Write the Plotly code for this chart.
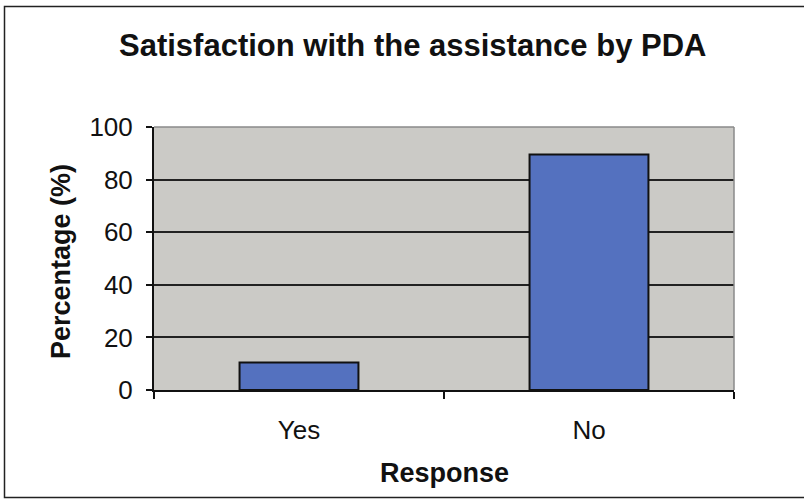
import plotly.graph_objects as go

# Survey responses
responses = ["Yes", "No"]
percentages = [10.5, 89.5]
y_ticks = [0, 20, 40, 60, 80, 100]

title_text = "Satisfaction with the assistance by PDA"
x_title = "Response"
y_title = "Percentage (%)"

FONT = "Liberation Sans, Arial, sans-serif"

# plot area in pixels (figure is 804 x 501)
L, R, T, B = 154, 70, 127, 111
W, H = 804, 501
pw, ph = W - L - R, H - T - B


def px_x(px):
    return (px - L) / pw


def px_y(py):
    return (H - B - py) / ph


fig = go.Figure()
fig.add_trace(go.Bar(
    x=responses,
    y=percentages,
    marker=dict(color="#5471bf", line=dict(color="#111111", width=2)),
    width=0.41,
    showlegend=False,
))

fig.update_layout(
    width=W,
    height=H,
    margin=dict(l=L, r=R, t=T, b=B),
    paper_bgcolor="white",
    plot_bgcolor="#cbcac6",
    font=dict(family=FONT, color="#111111"),
    xaxis=dict(
        type="category",
        showline=True, linecolor="#111111", linewidth=2,
        ticks="outside", tickson="boundaries", ticklen=7, tickcolor="#111111", tickwidth=1.5,
        tickfont=dict(size=26, family=FONT),
        ticklabelstandoff=16,
        showgrid=False,
        range=[-0.5, 1.5],
    ),
    yaxis=dict(
        range=[0, 100],
        tickvals=y_ticks,
        showline=True, linecolor="#111111", linewidth=2,
        ticks="outside", ticklen=6, tickcolor="#111111", tickwidth=1.5,
        tickfont=dict(size=26, family=FONT),
        ticklabelstandoff=8,
        showgrid=True, gridcolor="#222222", gridwidth=1.5,
        zeroline=False,
    ),
    annotations=[
        dict(text=f"<b>{title_text}</b>", xref="paper", yref="paper",
             x=px_x(412), y=px_y(45), xanchor="center", yanchor="middle",
             showarrow=False, font=dict(size=31, family=FONT, color="#111111")),
        dict(text=f"<b>{y_title}</b>", xref="paper", yref="paper",
             x=px_x(61), y=px_y(262), xanchor="center", yanchor="middle",
             textangle=-90, showarrow=False,
             font=dict(size=27, family=FONT, color="#111111")),
        dict(text=f"<b>{x_title}</b>", xref="paper", yref="paper",
             x=px_x(444), y=px_y(473), xanchor="center", yanchor="middle",
             showarrow=False, font=dict(size=27, family=FONT, color="#111111")),
    ],
    shapes=[
        # gray top and right edges of the plot area
        dict(type="line", xref="paper", yref="paper", x0=0, x1=1, y0=1, y1=1,
             line=dict(color="#8a8a8a", width=1.5), layer="above"),
        dict(type="line", xref="paper", yref="paper", x0=1, x1=1, y0=0, y1=1,
             line=dict(color="#8a8a8a", width=1.5), layer="above"),
        # outer chart frame
        dict(type="rect", xref="paper", yref="paper",
             x0=px_x(4.5), x1=px_x(812), y0=px_y(497.5), y1=px_y(6.5),
             line=dict(color="#222222", width=1.5), layer="above"),
    ],
)

fig.write_html("out.html")
